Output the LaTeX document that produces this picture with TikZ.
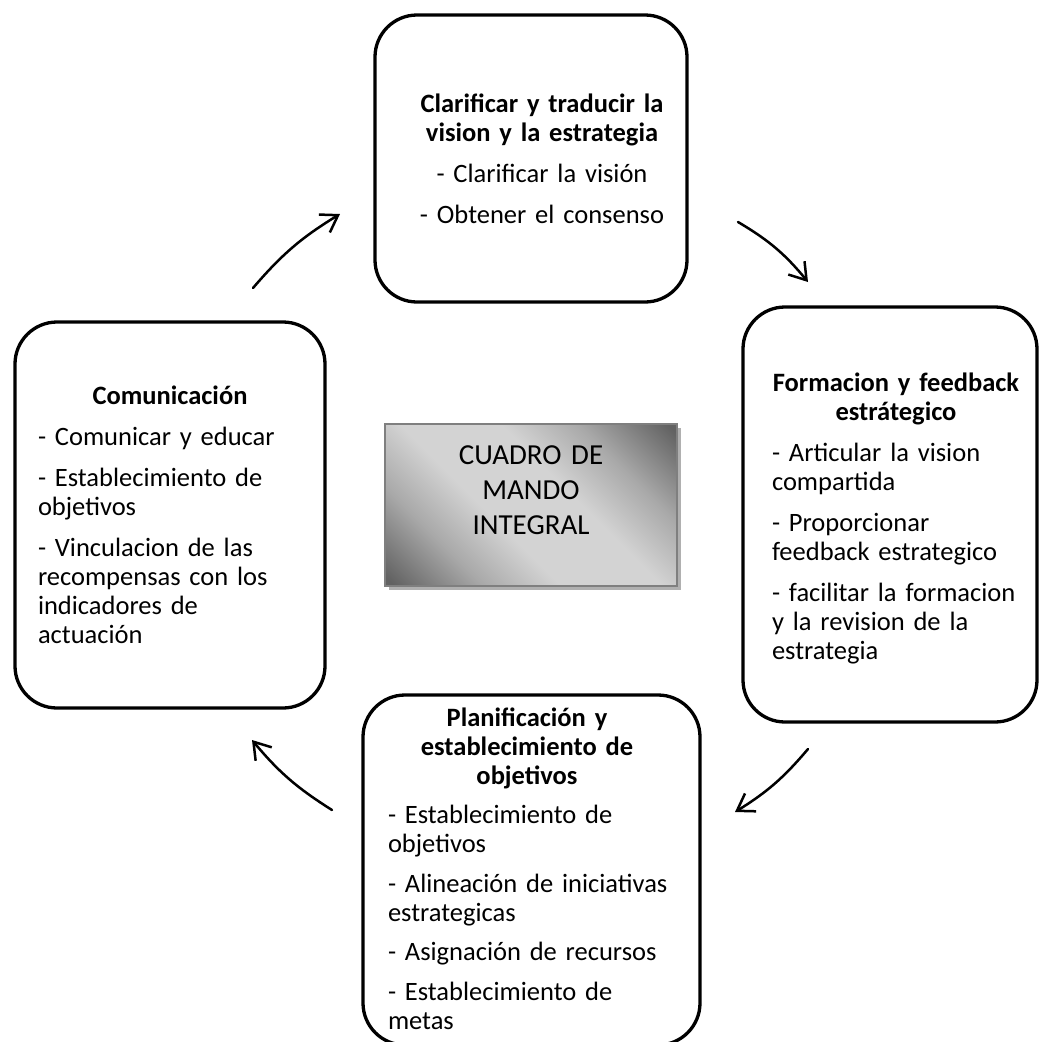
\documentclass[tikz,border=0pt]{standalone}
\usepackage{fontspec}
\setmainfont{Carlito}
\usetikzlibrary{arrows.meta,shadows}

\definecolor{coredark}{HTML}{626262}
\definecolor{coremid}{HTML}{A9A9A9}
\definecolor{corelight}{HTML}{D3D3D3}
\definecolor{coreedge}{HTML}{7F7F7F}
\definecolor{coreshadow}{HTML}{B0B0B0}

% metallic band: dark at both ends, light across the middle
\pgfdeclareverticalshading{coremetal}{100bp}{%
  color(0bp)=(coredark); color(16bp)=(coredark); color(30bp)=(coremid);
  color(42bp)=(corelight); color(58bp)=(corelight); color(70bp)=(coremid);
  color(84bp)=(coredark); color(100bp)=(coredark)}

% centred bold heading line of a stage, set in a box of the given width
\newcommand{\boxtitle}[2]{\makebox[#1][c]{\bfseries #2}}

\begin{document}
\hyphenpenalty=10000
\exhyphenpenalty=10000
\begin{tikzpicture}[x=1pt,y=-1pt,
  stage/.style={draw=black, line width=3.3pt, rounded corners=42pt, inner sep=0pt},
  stagetext/.style={inner sep=0pt, anchor=base, align=left,
    font=\fontsize{26.5}{29}\selectfont},
  corebox/.style={draw=coreedge, line width=2pt, inner sep=0pt,
    minimum width=292pt, minimum height=162pt,
    drop shadow={shadow xshift=4pt, shadow yshift=-4pt, opacity=1, fill=coreshadow},
    shade, shading=coremetal, shading angle=-45},
  coretext/.style={inner sep=0pt, anchor=base, align=center, text width=280pt,
    font=\fontsize{29}{35}\selectfont},
  cycle/.style={line width=2.5pt, line cap=round, line join=round,
    -{Straight Barb[length=16pt,width=21pt]}}
]
\useasboundingbox (0,0) rectangle (1039,1042);

% the four stages of the cycle
\node[stage, minimum width=312pt, minimum height=287pt] (vision) at (531,158.5) {};
\node[stage, minimum width=294pt, minimum height=415pt] (feedback) at (890,514.5) {};
\node[stage, minimum width=337pt, minimum height=350pt] (planning) at (531.5,870) {};
\node[stage, minimum width=310pt, minimum height=386pt] (comms) at (170,515) {};

% texts of the stages
\node[stagetext, text width=300pt, align=center] (visiontxt) at (542,112.5)
  {\textbf{Clarificar y traducir la\\ vision y la estrategia}\par\vspace{12pt}
   - Clarificar la visión\par\vspace{12pt}
   - Obtener el consenso};

\node[stagetext, text width=260pt] (feedbacktxt) at (902,391)
  {\boxtitle{248pt}{Formacion y feedback}\\ \boxtitle{248pt}{estrátegico}\par\vspace{12pt}
   - Articular la vision\\ compartida\par\vspace{12pt}
   - Proporcionar\\ feedback estrategico\par\vspace{12pt}
   - facilitar la formacion\\ y la revision de la\\ estrategia};

\node[stagetext, text width=300pt] (planningtxt) at (538,726)
  {\boxtitle{278pt}{Planificación y}\\ \boxtitle{278pt}{establecimiento de}\\ \boxtitle{278pt}{objetivos}\par\vspace{10.5pt}
   - Establecimiento de\\ objetivos\par\vspace{10.5pt}
   - Alineación de iniciativas\\ estrategicas\par\vspace{10.5pt}
   - Asignación de recursos\par\vspace{10.5pt}
   - Establecimiento de\\ metas};

\node[stagetext, text width=264pt] (commstxt) at (170,404)
  {\boxtitle{264pt}{Comunicación}\par\vspace{12pt}
   - Comunicar y educar\par\vspace{12pt}
   - Establecimiento de\\ objetivos\par\vspace{12pt}
   - Vinculacion de las\\ recompensas con los\\ indicadores de\\ actuación};

% central panel
\node[corebox] (core) at (531,505) {};
\node[coretext] (coretxt) at (531,464.5) {CUADRO DE\\ MANDO\\ INTEGRAL};

% arrows of the cycle
\coordinate (c1s) at (253,288);  \coordinate (c1e) at (340,214);
\coordinate (c2s) at (738,222);  \coordinate (c2e) at (808,282);
\coordinate (c3s) at (808,749);  \coordinate (c3e) at (735,812);
\coordinate (c4s) at (332,810);  \coordinate (c4e) at (252,740);

\draw[cycle] (c1s) to[bend left=9] (c1e);
\draw[cycle] (c2s) to[bend left=10] (c2e);
\draw[cycle] (c3s) to[bend left=9] (c3e);
\draw[cycle] (c4s) to[bend left=9] (c4e);
\end{tikzpicture}
\end{document}
